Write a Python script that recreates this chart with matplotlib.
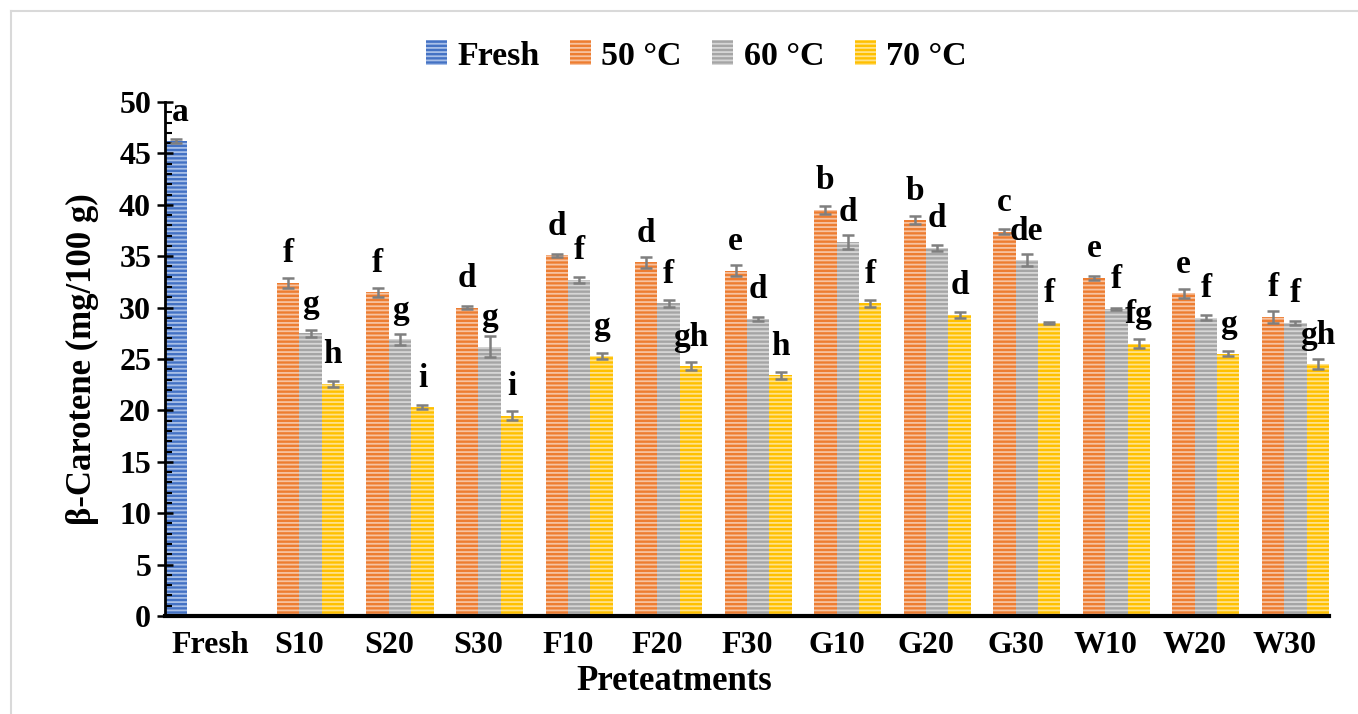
import numpy as np
import matplotlib
matplotlib.use("Agg")
import matplotlib.pyplot as plt
from matplotlib.lines import Line2D
from matplotlib.patches import Patch
from matplotlib.ticker import MultipleLocator

# ---- data ----
categories = ['Fresh', 'S10', 'S20', 'S30', 'F10', 'F20', 'F30',
              'G10', 'G20', 'G30', 'W10', 'W20', 'W30']
series_names = ['Fresh', '50 °C', '60 °C', '70 °C']

fresh_val = [46.2]
fresh_err = [0.2]
fresh_let = ['a']

t50 = [32.4, 31.5, 30.0, 35.1, 34.4, 33.6, 39.5, 38.5, 37.4, 32.9, 31.4, 29.1]
t50_err = [0.45, 0.45, 0.15, 0.15, 0.5, 0.5, 0.35, 0.37, 0.27, 0.2, 0.43, 0.6]
t50_let = ['f', 'f', 'd', 'd', 'd', 'e', 'b', 'b', 'c', 'e', 'e', 'f']

t60 = [27.5, 26.9, 26.2, 32.7, 30.4, 28.9, 36.4, 35.8, 34.6, 29.9, 29.0, 28.5]
t60_err = [0.35, 0.5, 1.0, 0.3, 0.3, 0.2, 0.7, 0.25, 0.6, 0.1, 0.25, 0.2]
t60_let = ['g', 'g', 'g', 'f', 'f', 'd', 'd', 'd', 'de', 'f', 'f', 'f']

t70 = [22.6, 20.3, 19.5, 25.3, 24.3, 23.4, 30.4, 29.3, 28.5, 26.5, 25.5, 24.5]
t70_err = [0.3, 0.2, 0.45, 0.3, 0.4, 0.3, 0.33, 0.27, 0.1, 0.4, 0.23, 0.5]
t70_let = ['h', 'i', 'i', 'g', 'gh', 'h', 'f', 'd', 'f', 'fg', 'g', 'gh']

# ---- style ----
plt.rcParams['font.family'] = ['Liberation Serif', 'DejaVu Serif']
plt.rcParams['font.weight'] = 'bold'
plt.rcParams['hatch.linewidth'] = 1.3

colors = ['#4472C4', '#ED7D31', '#A5A5A5', '#FFC000']
stripes = ['#A9C0E8', '#F7C3A1', '#D6D6D6', '#FFE28A']
err_kw = dict(ecolor='#7F7F7F', elinewidth=1.8, capsize=4.5, capthick=1.8)

fig = plt.figure(figsize=(13.58, 7.14), dpi=100)
ax = fig.add_axes([165/1358, 1-616/714, 1164/1358, 514/714])

x = np.arange(len(categories))
w = 0.25
offs = [-1.5*w, -0.5*w, 0.5*w, 1.5*w]

# fresh bar only in the first category
ax.bar(x[:1] + offs[0], fresh_val, w, color=colors[0], edgecolor=stripes[0],
       linewidth=0, hatch='----', yerr=fresh_err, error_kw=err_kw)
for xi, v, l in zip(x[:1] + offs[0], fresh_val, fresh_let):
    ax.text(xi + 0.04, v + 2.0, l, ha='center', va='baseline', fontsize=24,
            fontweight='bold', clip_on=False)

# drying temperatures
dried = [(t50, t50_err, t50_let), (t60, t60_err, t60_let), (t70, t70_err, t70_let)]
for i, (vals, errs, lets) in enumerate(dried):
    xs = x[1:] + offs[i+1]
    ax.bar(xs, vals, w, color=colors[i+1], edgecolor=stripes[i+1], linewidth=0,
           hatch='----', yerr=errs, error_kw=err_kw)
    for xi, v, l in zip(xs, vals, lets):
        ax.text(xi, v + 2.0, l, ha='center', va='baseline', fontsize=24,
                fontweight='bold')

ax.set_xlim(-0.5, len(categories) - 0.5)
ax.set_ylim(0, 50)
ax.set_xticks(x, categories)
ax.set_yticks(range(0, 51, 5))
ax.yaxis.set_minor_locator(MultipleLocator(1))
ax.tick_params(axis='x', length=0, pad=11, labelsize=23)
ax.tick_params(axis='y', which='major', direction='inout', length=12, width=1.8,
               pad=4, labelsize=23)
ax.tick_params(axis='y', which='minor', direction='in', length=5, width=1.5)

for s in ['top', 'right']:
    ax.spines[s].set_visible(False)
ax.spines['left'].set_linewidth(2)
ax.spines['bottom'].set_linewidth(3)

ax.set_ylabel('β-Carotene (mg/100 g)', fontsize=25, fontweight='bold')
ax.yaxis.set_label_coords(-0.057, 0.5)
fig.text(674/1358, 1-682/714, 'Preteatments', ha='center', va='center',
         fontsize=25, fontweight='bold')

handles = [Patch(facecolor=c, edgecolor=s, linewidth=0, hatch='----')
           for c, s in zip(colors, stripes)]
fig.legend(handles, series_names, loc='center', bbox_to_anchor=(0.5127, 0.9216),
           ncol=4, frameon=False, prop={'size': 24.5, 'weight': 'bold'},
           handlelength=0.62, handleheight=0.75, handletextpad=0.3,
           columnspacing=0.9)

# light frame line of the original chart area
fig.add_artist(Line2D([11/1358, 1], [1-11/714, 1-11/714], color='#D9D9D9',
                      lw=1.5, transform=fig.transFigure))
fig.add_artist(Line2D([11/1358, 11/1358], [0, 1-11/714], color='#D9D9D9',
                      lw=1.5, transform=fig.transFigure))

fig.savefig('out.png', dpi=100)
